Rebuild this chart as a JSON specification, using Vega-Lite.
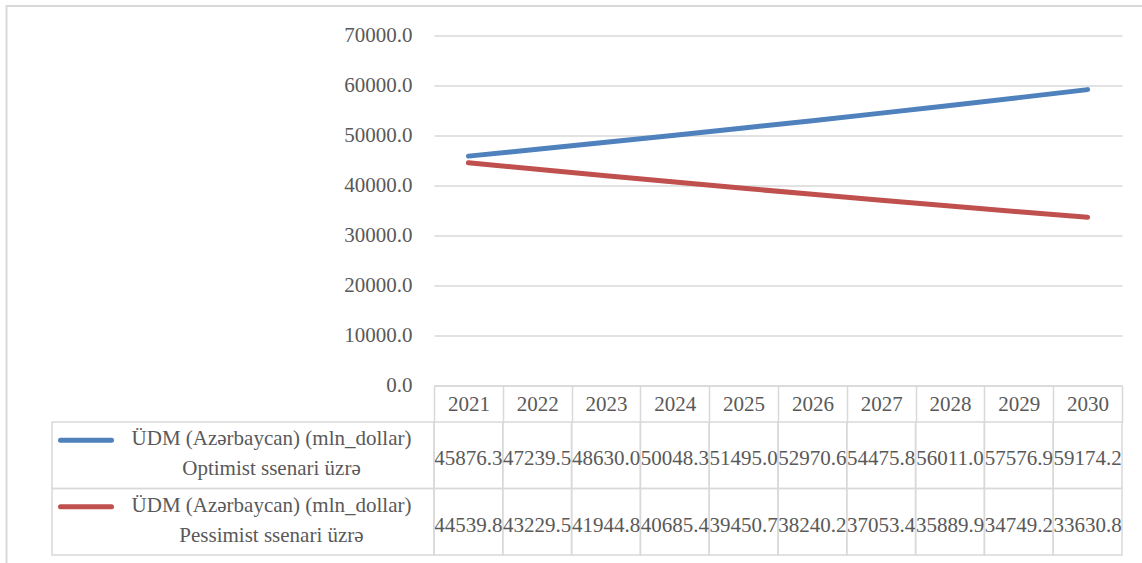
{
  "$schema": "https://vega.github.io/schema/vega-lite/v6.json",
  "width": 688,
  "height": 350,
  "autosize": {"type": "none"},
  "padding": {"left": 434, "top": 35.5, "right": 20, "bottom": 177.5},
  "background": "white",
  "config": {"view": {"stroke": null}, "font": "Liberation Serif"},
  "datasets": {
    "gdp": [
      {"year": "2021", "series": "Optimist", "value": 45876.3},
      {"year": "2022", "series": "Optimist", "value": 47239.5},
      {"year": "2023", "series": "Optimist", "value": 48630.0},
      {"year": "2024", "series": "Optimist", "value": 50048.3},
      {"year": "2025", "series": "Optimist", "value": 51495.0},
      {"year": "2026", "series": "Optimist", "value": 52970.6},
      {"year": "2027", "series": "Optimist", "value": 54475.8},
      {"year": "2028", "series": "Optimist", "value": 56011.0},
      {"year": "2029", "series": "Optimist", "value": 57576.9},
      {"year": "2030", "series": "Optimist", "value": 59174.2},
      {"year": "2021", "series": "Pessimist", "value": 44539.8},
      {"year": "2022", "series": "Pessimist", "value": 43229.5},
      {"year": "2023", "series": "Pessimist", "value": 41944.8},
      {"year": "2024", "series": "Pessimist", "value": 40685.4},
      {"year": "2025", "series": "Pessimist", "value": 39450.7},
      {"year": "2026", "series": "Pessimist", "value": 38240.2},
      {"year": "2027", "series": "Pessimist", "value": 37053.4},
      {"year": "2028", "series": "Pessimist", "value": 35889.9},
      {"year": "2029", "series": "Pessimist", "value": 34749.2},
      {"year": "2030", "series": "Pessimist", "value": 33630.8}
    ],
    "legend": [
      {"series": "Optimist", "label": "ÜDM (Azərbaycan) (mln_dollar)\nOptimist ssenari üzrə"},
      {"series": "Pessimist", "label": "ÜDM (Azərbaycan) (mln_dollar)\nPessimist ssenari üzrə"}
    ],
    "frame": [{"part": "frame"}]
  },
  "layer": [
    {
      "data": {"name": "frame"},
      "mark": {"type": "rect", "filled": false, "stroke": "#d9d9d9", "strokeWidth": 2},
      "encoding": {
        "x": {"field": "part", "type": "nominal", "scale": {"type": "band", "domain": ["frame"], "range": [-427.5, 720], "paddingInner": 0, "paddingOuter": 0}, "axis": null},
        "y": {"field": "part", "type": "nominal", "scale": {"type": "band", "domain": ["frame"], "range": [-29.5, 540], "paddingInner": 0, "paddingOuter": 0}, "axis": null}
      }
    },
    {
      "data": {"name": "gdp"},
      "mark": {"type": "line", "strokeWidth": 5, "strokeCap": "round", "strokeJoin": "round"},
      "encoding": {
        "x": {
          "field": "year", "type": "ordinal", "bandPosition": 0.5,
          "scale": {"type": "band", "paddingInner": 0, "paddingOuter": 0},
          "axis": {
            "title": null, "orient": "bottom", "grid": false,
            "domainColor": "#d9d9d9", "domainWidth": 1.5,
            "tickColor": "#d9d9d9", "tickWidth": 1.5, "tickSize": 36.5, "tickBand": "extent",
            "labelPadding": -17.5, "labelBaseline": "middle", "labelAngle": 0,
            "labelFont": "Liberation Serif", "labelFontSize": 21, "labelColor": "#595959"
          }
        },
        "y": {
          "field": "value", "type": "quantitative",
          "scale": {"domain": [0, 70000], "nice": false, "zero": true},
          "axis": {
            "title": null, "values": [0, 10000, 20000, 30000, 40000, 50000, 60000, 70000],
            "format": ".1f", "ticks": false, "domain": false,
            "grid": true, "gridColor": "#d9d9d9", "gridWidth": 1.5,
            "labelPadding": 22, "labelFont": "Liberation Serif", "labelFontSize": 21, "labelColor": "#595959"
          }
        },
        "color": {"field": "series", "type": "nominal", "scale": {"domain": ["Optimist", "Pessimist"], "range": ["#4f81bd", "#c0504d"]}, "legend": null}
      }
    },
    {
      "data": {"name": "gdp"},
      "encoding": {
        "x": {"field": "year", "type": "ordinal", "scale": {"type": "band", "paddingInner": 0, "paddingOuter": 0}, "axis": null},
        "y": {"field": "series", "type": "nominal", "scale": {"type": "band", "domain": ["Optimist", "Pessimist"], "range": [386.5, 519.5], "paddingInner": 0, "paddingOuter": 0}, "axis": null}
      },
      "layer": [
        {"mark": {"type": "rect", "filled": false, "stroke": "#d9d9d9", "strokeWidth": 1.5}},
        {
          "mark": {"type": "text", "font": "Liberation Serif", "fontSize": 21, "color": "#595959", "baseline": "middle", "dy": 4},
          "encoding": {"text": {"field": "value", "type": "quantitative", "format": ".1f"}}
        }
      ]
    },
    {
      "data": {"name": "legend"},
      "encoding": {
        "x": {"datum": "legend", "type": "nominal", "scale": {"type": "band", "domain": ["legend"], "range": [-382, 0], "paddingInner": 0, "paddingOuter": 0}, "axis": null},
        "y": {"field": "series", "type": "nominal", "scale": {"type": "band", "domain": ["Optimist", "Pessimist"], "range": [386.5, 519.5], "paddingInner": 0, "paddingOuter": 0}, "axis": null}
      },
      "layer": [
        {"mark": {"type": "rect", "filled": false, "stroke": "#d9d9d9", "strokeWidth": 1.5}},
        {
          "mark": {"type": "text", "font": "Liberation Serif", "fontSize": 21, "color": "#595959", "baseline": "middle", "align": "center", "lineBreak": "\n", "lineHeight": 30, "dx": 28.5, "dy": -16},
          "encoding": {"text": {"field": "label", "type": "nominal"}}
        },
        {
          "mark": {"type": "point", "shape": "stroke", "size": 2601, "filled": false, "strokeWidth": 5, "strokeCap": "round", "opacity": 1, "xOffset": -157, "yOffset": -15},
          "encoding": {
            "color": {"field": "series", "type": "nominal", "scale": {"domain": ["Optimist", "Pessimist"], "range": ["#4f81bd", "#c0504d"]}, "legend": null}
          }
        }
      ]
    }
  ],
  "resolve": {"scale": {"x": "independent", "y": "independent", "color": "independent"}}
}
